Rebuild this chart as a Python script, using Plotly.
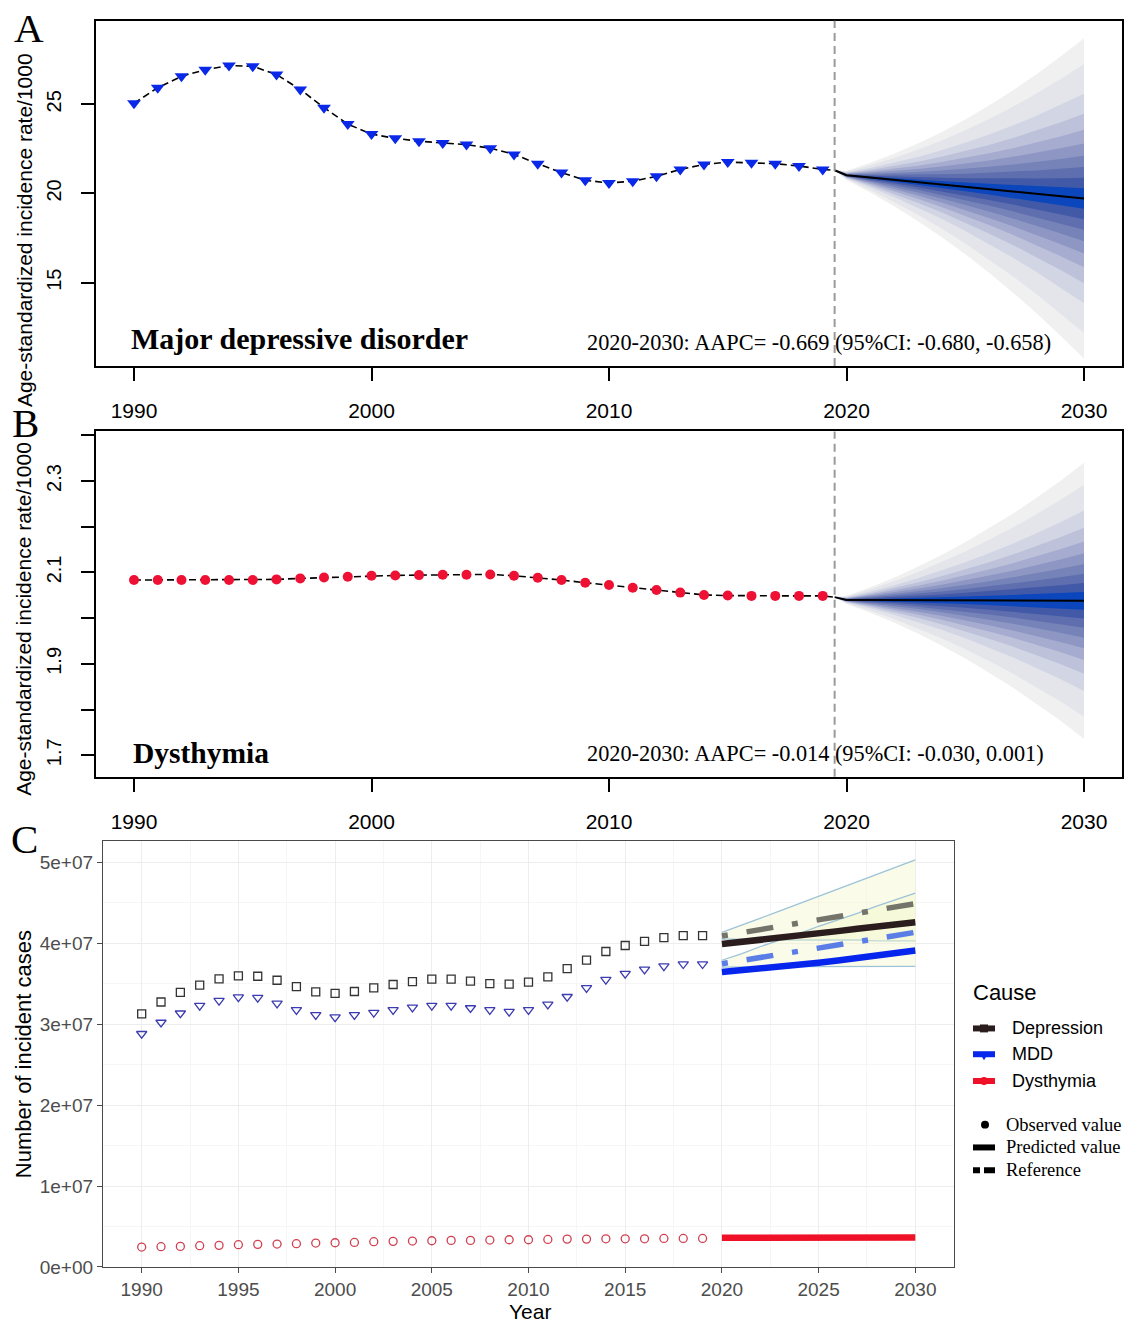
import plotly.graph_objects as go

W, H = 1124, 1332
SANS = "Liberation Sans, Arial, sans-serif"
SERIF = "Liberation Serif, Times New Roman, serif"

# ---------------- data ----------------
years_obs = list(range(1990, 2020))

# Panel A: MDD age-standardized incidence rate / 1000
mdd_asr = [25.06, 25.93, 26.57, 26.94, 27.17, 27.13, 26.67, 25.83, 24.81, 23.89,
           23.33, 23.09, 22.93, 22.83, 22.74, 22.54, 22.19, 21.67, 21.17, 20.74,
           20.59, 20.69, 20.96, 21.35, 21.63, 21.76, 21.72, 21.67, 21.54, 21.35]
# Panel B: Dysthymia age-standardized incidence rate / 1000
dys_asr = [2.0834, 2.0834, 2.0834, 2.0834, 2.0834, 2.0834, 2.0848, 2.0870, 2.0890, 2.0906,
           2.0928, 2.0935, 2.0942, 2.0950, 2.0950, 2.0957, 2.0928, 2.0884, 2.0834, 2.0776,
           2.0725, 2.0667, 2.0617, 2.0559, 2.0508, 2.0494, 2.0487, 2.0487, 2.0487, 2.0487]

fan_x = [2019.5] + list(range(2020, 2031))
mdd_median = [21.30, 21.02, 20.89, 20.76, 20.63, 20.50, 20.37, 20.24, 20.11, 19.98, 19.85, 19.72]
mdd_spread = [0.0, 0.26, 0.83, 1.47, 2.17, 2.94, 3.78, 4.69, 5.66, 6.70, 7.81, 8.98]
dys_median = [2.046, 2.040, 2.0398, 2.0396, 2.0394, 2.0392, 2.0390, 2.0388, 2.0386, 2.0384, 2.0382, 2.0380]
dys_spread = [0.0, 0.009, 0.028, 0.049, 0.073, 0.099, 0.127, 0.158, 0.190, 0.225, 0.262, 0.302]
# quantile bands, outer (2.5%-97.5%) to inner (45%-55%), as share of the outer half-width
band_mult = [1.0, 0.84, 0.654, 0.529, 0.429, 0.344, 0.267, 0.196, 0.129, 0.064]
band_colors = ["#f0f0f0", "#e4e5eb", "#d2d5e4", "#bdc1da", "#a6accf", "#8e97c3",
               "#7683b8", "#5e6eaf", "#4259a8", "#0b46bd"]

aapc_a = "2020-2030: AAPC= -0.669 (95%CI: -0.680, -0.658)"
aapc_b = "2020-2030: AAPC= -0.014 (95%CI: -0.030, 0.001)"

# Panel C: number of incident cases (units of 1e7)
SCALE = 1e7
dep_cases = [3.127, 3.274, 3.392, 3.482, 3.559, 3.596, 3.592, 3.543, 3.465, 3.400,
             3.380, 3.404, 3.449, 3.490, 3.527, 3.556, 3.556, 3.531, 3.502, 3.494,
             3.519, 3.584, 3.686, 3.792, 3.898, 3.972, 4.024, 4.070, 4.094, 4.094]
mdd_cases = [2.882, 3.021, 3.135, 3.229, 3.290, 3.335, 3.327, 3.257, 3.176, 3.115,
             3.086, 3.115, 3.143, 3.176, 3.208, 3.229, 3.229, 3.200, 3.176, 3.155,
             3.176, 3.245, 3.339, 3.449, 3.551, 3.624, 3.678, 3.718, 3.743, 3.743]
dys_cases = [0.246, 0.250, 0.254, 0.263, 0.267, 0.275, 0.279, 0.283, 0.287, 0.295,
             0.299, 0.303, 0.312, 0.316, 0.320, 0.324, 0.328, 0.328, 0.332, 0.336,
             0.336, 0.340, 0.344, 0.344, 0.348, 0.348, 0.348, 0.352, 0.352, 0.352]

years_pred = list(range(2020, 2031))
dep_pred = [3.99, 4.02, 4.04, 4.07, 4.10, 4.125, 4.15, 4.18, 4.21, 4.23, 4.26]
dep_ref = [4.09, 4.13, 4.17, 4.21, 4.25, 4.29, 4.33, 4.37, 4.41, 4.45, 4.49]
dep_upper = [4.135, 4.22, 4.31, 4.40, 4.49, 4.58, 4.67, 4.76, 4.85, 4.94, 5.03]
dep_lower = [4.05, 4.05, 4.05, 4.04, 4.04, 4.04, 4.04, 4.04, 4.03, 4.03, 4.03]
mdd_pred = [3.645, 3.665, 3.687, 3.710, 3.734, 3.759, 3.786, 3.815, 3.846, 3.878, 3.911]
mdd_ref = [3.747, 3.785, 3.823, 3.862, 3.900, 3.940, 3.980, 4.020, 4.060, 4.100, 4.135]
mdd_upper = [3.79, 3.87, 3.96, 4.04, 4.12, 4.21, 4.29, 4.37, 4.46, 4.54, 4.62]
mdd_lower = [3.706, 3.71, 3.71, 3.71, 3.71, 3.71, 3.71, 3.71, 3.715, 3.715, 3.715]
dys_pred = [0.361, 0.361, 0.362, 0.362, 0.362, 0.363, 0.363, 0.363, 0.364, 0.364, 0.364]

x_ticks_ab = [1990, 2000, 2010, 2020, 2030]
x_ticks_c = list(range(1990, 2031, 5))
y_ticks_c = [0, 1e7, 2e7, 3e7, 4e7, 5e7]
y_ticktext_c = ["0e+00", "1e+07", "2e+07", "3e+07", "4e+07", "5e+07"]

# ---------------- helpers ----------------
def fx(p):
    return p / W


def fy(p):
    return 1 - p / H


def sc(v):
    return [a * SCALE for a in v]


fig = go.Figure()


def add_fan(xa, ya, median, spread):
    for mult, col in zip(band_mult, band_colors):
        up = [m + mult * s for m, s in zip(median, spread)]
        lo = [m - mult * s for m, s in zip(median, spread)]
        fig.add_trace(go.Scatter(x=fan_x + fan_x[::-1], y=up + lo[::-1], fill="toself",
                                 fillcolor=col, line=dict(width=0), mode="lines",
                                 xaxis=xa, yaxis=ya, hoverinfo="skip", showlegend=False))
    fig.add_trace(go.Scatter(x=fan_x, y=median, mode="lines",
                             line=dict(color="black", width=2),
                             xaxis=xa, yaxis=ya, showlegend=False))


# Panel A
add_fan("x", "y", mdd_median, mdd_spread)
fig.add_trace(go.Scatter(x=years_obs + [fan_x[0]], y=mdd_asr + [mdd_median[0]], mode="lines",
                         line=dict(color="black", width=1.6, dash="7px,4px"),
                         xaxis="x", yaxis="y", showlegend=False))
fig.add_trace(go.Scatter(x=years_obs, y=mdd_asr, mode="markers",
                         marker=dict(symbol="triangle-down", size=12, color="#0a28e8",
                                     line=dict(width=0)),
                         xaxis="x", yaxis="y", showlegend=False))

# Panel B
add_fan("x2", "y2", dys_median, dys_spread)
fig.add_trace(go.Scatter(x=years_obs + [fan_x[0]], y=dys_asr + [dys_median[0]], mode="lines",
                         line=dict(color="black", width=1.6, dash="7px,4px"),
                         xaxis="x2", yaxis="y2", showlegend=False))
fig.add_trace(go.Scatter(x=years_obs, y=dys_asr, mode="markers",
                         marker=dict(symbol="circle", size=10, color="#ee1133",
                                     line=dict(width=0)),
                         xaxis="x2", yaxis="y2", showlegend=False))

# Panel C: CI ribbons
for lo, up in [(dep_lower, dep_upper), (mdd_lower, mdd_upper)]:
    fig.add_trace(go.Scatter(x=years_pred, y=sc(lo), mode="lines",
                             line=dict(color="#9cc3d8", width=1.3),
                             xaxis="x3", yaxis="y3", showlegend=False))
    fig.add_trace(go.Scatter(x=years_pred, y=sc(up), mode="lines", fill="tonexty",
                             fillcolor="rgba(244,247,205,0.45)",
                             line=dict(color="#9cc3d8", width=1.3),
                             xaxis="x3", yaxis="y3", showlegend=False))

REF_DASH = "6px,19px,27px,19px"
fig.add_trace(go.Scatter(x=years_pred, y=sc(dep_ref), mode="lines",
                         line=dict(color="#74746a", width=5.5, dash=REF_DASH),
                         xaxis="x3", yaxis="y3", showlegend=False))
fig.add_trace(go.Scatter(x=years_pred, y=sc(mdd_ref), mode="lines",
                         line=dict(color="#5a7ee6", width=5.5, dash=REF_DASH),
                         xaxis="x3", yaxis="y3", showlegend=False))
fig.add_trace(go.Scatter(x=years_pred, y=sc(dep_pred), mode="lines",
                         line=dict(color="#2b1d1d", width=6.5),
                         xaxis="x3", yaxis="y3", showlegend=False))
fig.add_trace(go.Scatter(x=years_pred, y=sc(mdd_pred), mode="lines",
                         line=dict(color="#0626ee", width=6.5),
                         xaxis="x3", yaxis="y3", showlegend=False))
fig.add_trace(go.Scatter(x=years_pred, y=sc(dys_pred), mode="lines",
                         line=dict(color="#ee1128", width=6.5),
                         xaxis="x3", yaxis="y3", showlegend=False))

fig.add_trace(go.Scatter(x=years_obs, y=sc(dep_cases), mode="markers",
                         marker=dict(symbol="square-open", size=8, color="#333333",
                                     line=dict(width=1.3)),
                         xaxis="x3", yaxis="y3", showlegend=False))
fig.add_trace(go.Scatter(x=years_obs, y=sc(mdd_cases), mode="markers",
                         marker=dict(symbol="triangle-down-open", size=9, color="#3c3cb0",
                                     line=dict(width=1.3)),
                         xaxis="x3", yaxis="y3", showlegend=False))
fig.add_trace(go.Scatter(x=years_obs, y=sc(dys_cases), mode="markers",
                         marker=dict(symbol="circle-open", size=8, color="#d04050",
                                     line=dict(width=1.3)),
                         xaxis="x3", yaxis="y3", showlegend=False))

# ---------------- axes ----------------
box_common = dict(showline=True, linecolor="black", linewidth=1.5, mirror=True,
                  showgrid=False, zeroline=False, ticks="outside", tickcolor="black",
                  tickwidth=1.5, ticklen=13, tickfont=dict(family=SANS, size=21, color="black"))

xa = dict(box_common, domain=[fx(96), fx(1122)], range=[1988.4, 2031.6],
          tickmode="array", tickvals=x_ticks_ab, ticklabelstandoff=12)
fig.update_layout(
    xaxis=dict(xa, anchor="y"),
    yaxis=dict(box_common, domain=[fy(369), fy(21)], range=[10.33, 29.68], anchor="x",
               tickmode="array", tickvals=[15, 20, 25], tickangle=-90,
               tickfont=dict(family=SANS, size=20, color="black"), ticklabelstandoff=12),
    xaxis2=dict(xa, anchor="y2"),
    yaxis2=dict(box_common, domain=[fy(783.3), fy(435)], range=[1.653, 2.4085], anchor="x2",
                tickmode="array", tickvals=[1.7, 1.8, 1.9, 2.0, 2.1, 2.2, 2.3, 2.4],
                ticktext=["1.7", "", "1.9", "", "2.1", "", "2.3", ""], tickangle=-90,
                tickfont=dict(family=SANS, size=20, color="black"), ticklabelstandoff=12),
    xaxis3=dict(domain=[fx(103), fx(954)], range=[1988, 2032], anchor="y3",
                tickmode="array", tickvals=x_ticks_c, showline=True, mirror=True,
                linecolor="#4a4a4a", linewidth=1.2, ticks="outside", ticklen=5,
                tickcolor="#4a4a4a", tickfont=dict(family=SANS, size=19, color="#4d4d4d"),
                showgrid=True, gridcolor="#ededed", gridwidth=1, zeroline=False,
                minor=dict(tickmode="linear", tick0=1987.5, dtick=5, showgrid=True,
                           gridcolor="#f6f6f6", ticks="")),
    yaxis3=dict(domain=[fy(1277.5), fy(848.3)], range=[0, 5.26e7], anchor="x3",
                tickmode="array", tickvals=y_ticks_c, ticktext=y_ticktext_c,
                showline=True, mirror=True, linecolor="#4a4a4a", linewidth=1.2,
                ticks="outside", ticklen=5, tickcolor="#4a4a4a",
                tickfont=dict(family=SANS, size=19, color="#4d4d4d"),
                showgrid=True, gridcolor="#ededed", zeroline=False,
                minor=dict(tickmode="linear", tick0=5e6, dtick=1e7, showgrid=True,
                           gridcolor="#f6f6f6", ticks="")),
)

# ---------------- shapes ----------------
shapes = []
for ya in ["y", "y2"]:
    xr = "x" if ya == "y" else "x2"
    shapes.append(dict(type="line", xref=xr, yref=f"{ya} domain", x0=2019.5, x1=2019.5,
                       y0=0, y1=1, line=dict(color="#9a9a9a", width=2, dash="8px,5px")))


def hbar(x0, x1, y, color, width=6):
    return dict(type="line", xref="paper", yref="paper", x0=fx(x0), x1=fx(x1),
                y0=fy(y), y1=fy(y), line=dict(color=color, width=width))


# legend 1 keys
shapes.append(hbar(973, 995, 1037, "#2b1d1d"))
shapes.append(dict(type="rect", xref="paper", yref="paper", x0=fx(980), x1=fx(988),
                   y0=fy(1041), y1=fy(1033), fillcolor="#2b1d1d", line=dict(width=0)))
shapes.append(hbar(973, 995, 1063, "#0626ee"))
shapes.append(dict(type="path", xref="paper", yref="paper",
                   path=f"M {fx(981)},{fy(1064)} L {fx(987)},{fy(1064)} L {fx(984)},{fy(1069)} Z",
                   fillcolor="#0626ee", line=dict(width=0)))
shapes.append(hbar(973, 995, 1090, "#ee1128"))
shapes.append(dict(type="circle", xref="paper", yref="paper", x0=fx(980), x1=fx(988),
                   y0=fy(1094), y1=fy(1086), fillcolor="#ee1128", line=dict(width=0)))
# legend 2 keys
shapes.append(dict(type="circle", xref="paper", yref="paper", x0=fx(981), x1=fx(989),
                   y0=fy(1138), y1=fy(1130), fillcolor="black", line=dict(width=0)))
shapes.append(hbar(973, 995, 1157, "black"))
shapes.append(hbar(973, 980, 1180, "black"))
shapes.append(hbar(984, 995, 1180, "black"))
fig.update_layout(shapes=shapes)

# ---------------- annotations ----------------
ann = []


def text(x, y, s, size, family=SANS, color="black", xanchor="center", angle=0, bold=False):
    ann.append(dict(x=fx(x), y=fy(y), xref="paper", yref="paper", text=f"<b>{s}</b>" if bold else s,
                    showarrow=False, xanchor=xanchor, yanchor="middle", textangle=angle,
                    font=dict(family=family, size=size, color=color)))


text(29, 28, "A", 41, SERIF)
text(25, 427, "B", 41, SERIF)
text(24, 846, "C", 41, SERIF)
text(24, 232, "Age-standardized incidence rate/1000", 21, angle=-90)
text(24, 624, "Age-standardized incidence rate/1000", 21, angle=-90)
text(129, 341, "Major depressive disorder", 30, SERIF, xanchor="left", bold=True)
text(131, 759, "Dysthymia", 29.5, SERIF, xanchor="left", bold=True)
text(585, 345, aapc_a, 22.3, SERIF, xanchor="left")
text(585, 760, aapc_b, 22.3, SERIF, xanchor="left")
text(23, 1063, "Number of incident cases", 22, angle=-90)
text(530, 1322, "Year", 21)
text(971, 1001, "Cause", 22, xanchor="left")
text(1010, 1037, "Depression", 18, xanchor="left")
text(1010, 1063, "MDD", 18, xanchor="left")
text(1010, 1090, "Dysthymia", 18, xanchor="left")
text(1004, 1134, "Observed value", 18.5, SERIF, xanchor="left")
text(1004, 1157, "Predicted value", 18.5, SERIF, xanchor="left")
text(1004, 1180, "Reference", 18.5, SERIF, xanchor="left")
fig.update_layout(annotations=ann)

fig.update_layout(width=W, height=H, margin=dict(l=0, r=0, t=0, b=0),
                  paper_bgcolor="white", plot_bgcolor="white", showlegend=False)

fig.write_html("out.html")
